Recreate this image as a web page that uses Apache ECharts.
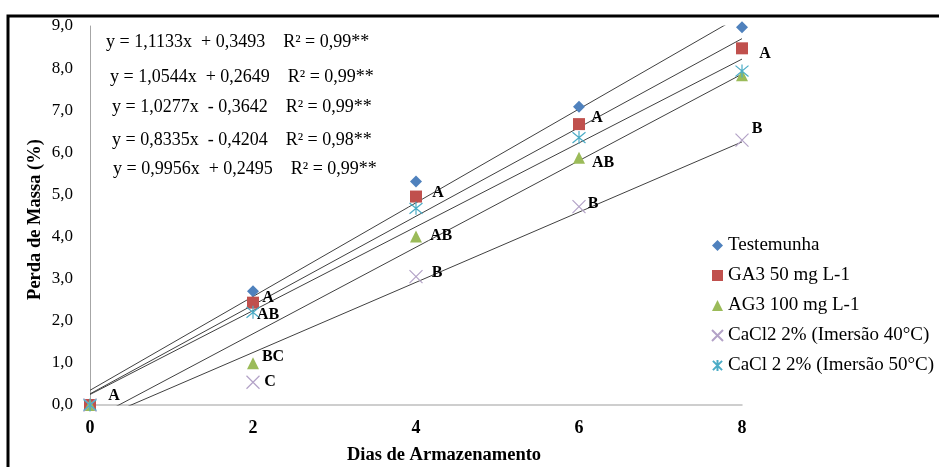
<!DOCTYPE html>
<html>
<head>
<meta charset="utf-8">
<script src="https://cdn.jsdelivr.net/npm/echarts@6/dist/echarts.min.js"></script>
<style>html,body{margin:0;padding:0;background:#fff;}#c{width:939px;height:467px;}</style>
</head>
<body>
<div id="c"></div>
<script>
// ---- data ----
var days = [0, 2, 4, 6, 8];
var seriesNames = ['Testemunha', 'GA3 50 mg L-1', 'AG3 100 mg L-1', 'CaCl2 2% (Imersão 40°C)', 'CaCl 2 2% (Imersão 50°C)'];
var testemunha = [0, 2.70, 5.31, 7.08, 8.97];
var ga3 = [0, 2.43, 4.95, 6.67, 8.47];
var ag3 = [0, 0.99, 4.00, 5.87, 7.83];
var cacl40 = [0, 0.54, 3.05, 4.71, 6.29];
var cacl50 = [0, 2.20, 4.67, 6.35, 7.93];
// significance letters per point ('' = none)
var lettersTestemunha = ['', '', '', '', ''];
var lettersGa3 = ['A', 'A', 'A', 'A', 'A'];
var lettersAg3 = ['', 'BC', 'AB', 'AB', ''];
var lettersCacl40 = ['', 'C', 'B', 'B', 'B'];
var lettersCacl50 = ['', 'AB', '', '', ''];
// regression equations (slope, intercept) in legend order
var slopes = [1.1133, 1.0544, 1.0277, 0.8335, 0.9956];
var intercepts = [0.3493, 0.2649, -0.3642, -0.4204, 0.2495];
var equationTexts = [
  'y = 1,1133x  + 0,3493    R² = 0,99**',
  'y = 1,0544x  + 0,2649    R² = 0,99**',
  'y = 1,0277x  - 0,3642    R² = 0,99**',
  'y = 0,8335x  - 0,4204    R² = 0,98**',
  'y = 0,9956x  + 0,2495    R² = 0,99**'
];
var xTicks = [0, 2, 4, 6, 8];

// ---- styles ----
var colors = ['#4F81BD', '#C0504D', '#9BBB59', '#B3A2C7', '#4BACC6'];
var symbols = ['diamond', 'rect', 'triangle',
  'path://M0,0L10,10M10,0L0,10',
  'path://M0,0L10,10M10,0L0,10M5,-1L5,11'];
var symbolSizes = [12, 12, 12, 13, 13];
var serif = '"Liberation Serif","Times New Roman",serif';
// label offsets (text center relative to point) per series/point
var labelOffsets = [
  [null, null, null, null, null],
  [[24, -9], [15, -5], [22, -4], [18, -6], [23, 6]],
  [null, [20, -6], [25, -1], [24, 5], null],
  [null, [17, 0], [21, -4], [14, -3], [15, -11]],
  [null, [15, 3], null, null, null]
];
var eqPos = [[106, 42], [110, 77], [112, 107], [112, 140], [113, 169]];

var values = [testemunha, ga3, ag3, cacl40, cacl50];
var letters = [lettersTestemunha, lettersGa3, lettersAg3, lettersCacl40, lettersCacl50];

var series = [];
// trend lines
for (var i = 0; i < slopes.length; i++) {
  var x0 = days[0], x1 = days[days.length - 1];
  series.push({
    type: 'line', name: 'trend' + i, silent: true, clip: true, showSymbol: false, symbol: 'none',
    lineStyle: { color: '#404040', width: 1 }, z: 1,
    data: [[x0, slopes[i] * x0 + intercepts[i]], [x1, slopes[i] * x1 + intercepts[i]]]
  });
}
// scatter series
for (var s = 0; s < values.length; s++) {
  var data = [];
  for (var k = 0; k < days.length; k++) {
    var item = { value: [days[k], values[s][k]] };
    if (letters[s][k]) {
      item.label = {
        show: true, position: 'inside', formatter: letters[s][k],
        offset: labelOffsets[s][k], color: '#000', fontFamily: serif,
        fontWeight: 'bold', fontSize: 16
      };
    }
    data.push(item);
  }
  var isStroke = s >= 3;
  series.push({
    type: 'scatter', name: seriesNames[s], symbol: symbols[s], symbolSize: symbolSizes[s], z: 3 + s,
    itemStyle: isStroke ? { color: 'rgba(0,0,0,0)', borderColor: colors[s], borderWidth: 1.2, opacity: 1 } : { color: colors[s], opacity: 1 },
    data: data
  });
}

var graphics = [
  { type: 'rect', shape: { x: 8, y: 16, width: 1000, height: 500 }, style: { fill: 'none', stroke: '#000', lineWidth: 3 }, z: 10, silent: true }
];
for (var e = 0; e < equationTexts.length; e++) {
  graphics.push({
    type: 'text', x: eqPos[e][0], y: eqPos[e][1],
    style: { text: equationTexts[e], font: '18px ' + serif, fill: '#000', textVerticalAlign: 'middle', verticalAlign: 'middle' }
  });
}

var chart = echarts.init(document.getElementById('c'));
chart.setOption({
  animation: false,
  backgroundColor: '#fff',
  grid: { left: 90, right: 197, top: 26, bottom: 62, containLabel: false, outerBoundsMode: 'none' },
  xAxis: {
    type: 'value', min: 0, max: 8, interval: 2,
    axisLine: { lineStyle: { color: '#BFBFBF', width: 1.5 } },
    axisTick: { show: false }, splitLine: { show: false },
    axisLabel: { margin: 14, color: '#000', fontFamily: serif, fontWeight: 'bold', fontSize: 18,
      formatter: function (v) { return xTicks.indexOf(v) >= 0 ? String(v) : ''; } },
    name: 'Dias de Armazenamento', nameLocation: 'middle', nameGap: 41, nameMoveOverlap: false,
    nameTextStyle: { color: '#000', fontFamily: serif, fontWeight: 'bold', fontSize: 18.5, padding: [0, 0, 0, 56] }
  },
  yAxis: {
    type: 'value', min: 0, max: 9, interval: 1,
    axisLine: { show: true, lineStyle: { color: '#A6A6A6', width: 1 } },
    axisTick: { show: false }, splitLine: { show: false },
    axisLabel: { margin: 17, color: '#000', fontFamily: serif, fontSize: 17,
      formatter: function (v) { return v.toFixed(1).replace('.', ','); } },
    name: 'Perda de Massa (%)', nameLocation: 'middle', nameGap: 45, nameMoveOverlap: false,
    nameTextStyle: { color: '#000', fontFamily: serif, fontWeight: 'bold', fontSize: 18.5, padding: [0, 8, 0, 0] }
  },
  legend: {
    data: seriesNames.map(function (n, i) { return { name: n, icon: i < 3 ? undefined : symbols[i] }; }),
    orient: 'vertical', left: 706, top: 231, itemWidth: 11, itemHeight: 11, itemGap: 11,
    textStyle: { color: '#000', fontFamily: serif, fontSize: 19 }
  },
  graphic: graphics,
  series: series
});
</script>
</body>
</html>
